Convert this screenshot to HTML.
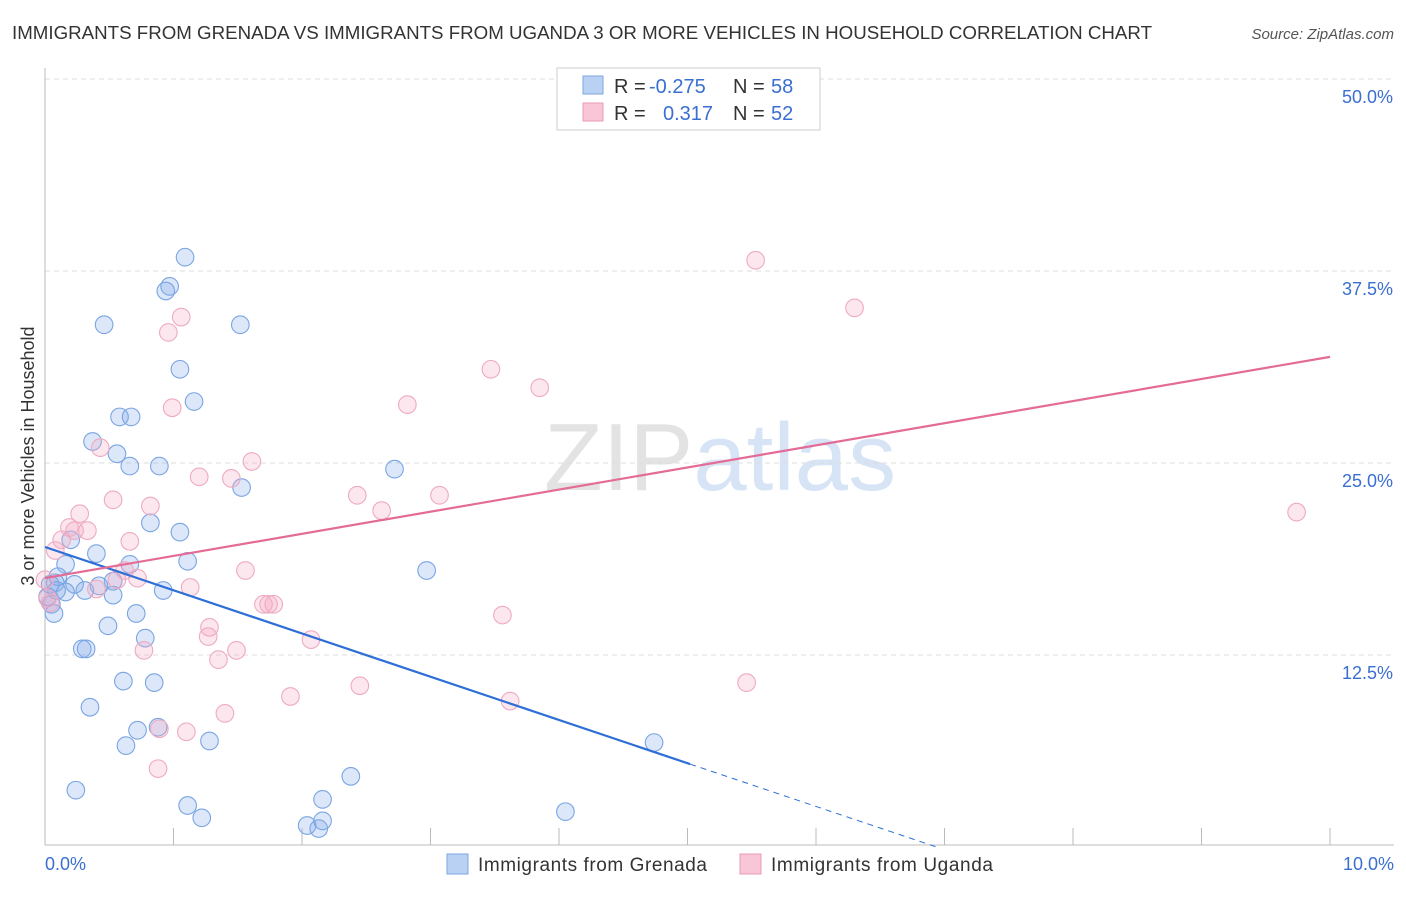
<!DOCTYPE html>
<html><head><meta charset="utf-8"><style>
body{margin:0;background:#fff;font-family:"Liberation Sans",sans-serif}
svg text{font-family:"Liberation Sans",sans-serif}
</style></head><body>
<svg id="chart" width="1406" height="892" viewBox="0 0 1406 892">
<text x="12" y="39" font-size="18" fill="#333" textLength="1140" lengthAdjust="spacingAndGlyphs">IMMIGRANTS FROM GRENADA VS IMMIGRANTS FROM UGANDA 3 OR MORE VEHICLES IN HOUSEHOLD CORRELATION CHART</text>
<text x="1394" y="39" font-size="15" fill="#555" font-style="italic" text-anchor="end">Source: ZipAtlas.com</text>
<text x="720" y="490" font-size="96" text-anchor="middle" font-family="Liberation Serif"><tspan fill="#e3e3e3">ZIP</tspan><tspan fill="#d6e4f6" font-family="Liberation Sans">atlas</tspan></text>
<text transform="translate(34,456) rotate(-90)" font-size="18" fill="#333" text-anchor="middle">3 or more Vehicles in Household</text>
<g id="grid"></g><g id="pts"></g><g id="lines"></g>
<g>
<rect x="557" y="68" width="263" height="62" fill="#fff" stroke="#ccc"/>
<rect x="583" y="76" width="20" height="18" fill="#b9d2f4" stroke="#7ea6e0"/>
<rect x="583" y="103" width="20" height="18" fill="#f8c6d6" stroke="#eb9ab5"/>
<text x="614" y="93" font-size="20" fill="#333">R =</text>
<text x="649" y="93" font-size="20" fill="#3a6fd1">-0.275</text>
<text x="733" y="93" font-size="20" fill="#333">N =</text>
<text x="771" y="93" font-size="20" fill="#3a6fd1">58</text>
<text x="614" y="120" font-size="20" fill="#333">R =</text>
<text x="663" y="120" font-size="20" fill="#3a6fd1">0.317</text>
<text x="733" y="120" font-size="20" fill="#333">N =</text>
<text x="771" y="120" font-size="20" fill="#3a6fd1">52</text>
</g>
<g>
<rect x="447" y="854" width="21" height="20" fill="#b9d2f4" stroke="#7ea6e0"/>
<text x="478" y="871" font-size="19" fill="#333" textLength="229">Immigrants from Grenada</text>
<rect x="740" y="854" width="21" height="20" fill="#f8c6d6" stroke="#eb9ab5"/>
<text x="771" y="871" font-size="19" fill="#333" textLength="222">Immigrants from Uganda</text>
</g>
</svg>
<script>
const yTicks=[12.5,25,37.5,50];
const yTickLabels=["12.5%","25.0%","37.5%","50.0%"];
const xTickLabels=["0.0%","10.0%"];
const blueX=[1.09,0.97,0.94,0.46,1.52,1.05,1.16,0.58,0.67,0.37,0.56,0.66,0.89,1.53,2.72,0.82,1.05,0.20,0.40,0.66,1.11,0.16,0.10,0.08,0.04,0.23,0.53,0.42,0.16,0.09,0.31,0.02,0.92,0.53,0.05,0.71,0.07,0.49,0.78,0.29,0.32,0.61,0.85,2.97,0.35,0.72,0.63,0.88,1.28,0.24,1.11,1.22,2.38,2.16,2.04,2.13,2.16,4.05,4.74];
const blueY=[38.4,36.5,36.2,34.0,34.0,31.1,29.0,28.0,28.0,26.4,25.6,24.8,24.8,23.4,24.6,21.1,20.5,20.0,19.1,18.4,18.6,18.4,17.6,17.2,17.1,17.1,17.3,17.0,16.6,16.7,16.7,16.3,16.7,16.4,15.8,15.2,15.2,14.4,13.6,12.9,12.9,10.8,10.7,18.0,9.1,7.6,6.6,7.8,6.9,3.7,2.7,1.9,4.6,3.1,1.4,1.2,1.7,2.3,6.8];
const pinkX=[5.53,6.30,1.06,0.96,3.47,3.85,2.82,0.99,0.43,1.61,1.20,1.45,0.53,2.43,3.07,0.82,2.62,0.27,0.19,0.33,0.23,0.13,0.66,0.08,1.56,0.62,0.72,0.56,0.40,0.02,0.04,1.13,1.70,1.78,1.74,3.56,1.28,1.27,2.07,0.77,1.49,1.35,1.91,2.45,1.40,3.62,5.46,1.10,0.89,0.88,9.74,0.0];
const pinkY=[38.2,35.1,34.5,33.5,31.1,29.9,28.8,28.6,26.0,25.1,24.1,24.0,22.6,22.9,22.9,22.2,21.9,21.7,20.8,20.6,20.6,20.0,19.9,19.3,18.0,18.0,17.5,17.4,16.8,16.2,15.9,16.9,15.8,15.8,15.8,15.1,14.3,13.7,13.5,12.8,12.8,12.2,9.8,10.5,8.7,9.5,10.7,7.5,7.7,5.1,21.8,17.4];
const blueTrend=[19.53,-2.815];
const pinkTrend=[17.51,1.44];
const NS="http://www.w3.org/2000/svg";
const sx=v=>45+v*128.5, sy=v=>847-v*15.36;
function mk(tag,at,parent){const e=document.createElementNS(NS,tag);for(const k in at)e.setAttribute(k,at[k]);parent.appendChild(e);return e;}
const g=document.getElementById('grid');
yTicks.forEach((t,i)=>{
 const l=mk('line',{x1:45,x2:1394,y1:sy(t),y2:sy(t),stroke:'#ddd','stroke-dasharray':'5,4'},g);
 
 
 const tx=mk('text',{x:1393,y:sy(t)+24,'font-size':18,fill:'#3a6fd1','text-anchor':'end'},g);
 tx.textContent=yTickLabels[i];
 
 
});
const ax=mk('line',{x1:45,x2:45,y1:68,y2:845,stroke:'#bbb'},g);


const bx=mk('line',{x1:45,x2:1394,y1:845,y2:845,stroke:'#bbb'},g);


for(let i=1;i<=10;i++){const t=mk('line',{x1:sx(i),x2:sx(i),y1:828,y2:845,stroke:'#bbb'},g);
 
 }
[[0,'start',45],[10,'end',1394]].forEach((d,i)=>{const t=mk('text',{x:d[2],y:870,'font-size':18,fill:'#3a6fd1','text-anchor':d[1]},g);t.textContent=xTickLabels[i];
 
 });
const p=document.getElementById('pts');
blueX.forEach((x,i)=>{const c=mk('circle',{cx:sx(x),cy:sy(blueY[i]),r:8.8,fill:'rgba(130,170,235,0.28)',stroke:'#7aa5e2','stroke-width':1.1},p);
 
 });
pinkX.forEach((x,i)=>{const c=mk('circle',{cx:sx(x),cy:sy(pinkY[i]),r:8.8,fill:'rgba(245,170,195,0.28)',stroke:'#eeaac2','stroke-width':1.1},p);
 
 });
const L=document.getElementById('lines');
const bt=x=>blueTrend[0]+blueTrend[1]*x, pt=x=>pinkTrend[0]+pinkTrend[1]*x;
let e=mk('line',{x1:sx(0),y1:sy(bt(0)),x2:sx(5.02),y2:sy(bt(5.02)),stroke:'#2d6fd6','stroke-width':2.2},L);


e=mk('line',{x1:sx(5.02),y1:sy(bt(5.02)),x2:sx(6.94),y2:sy(bt(6.94)),stroke:'#2d6fd6','stroke-width':1,'stroke-dasharray':'6,5'},L);


e=mk('line',{x1:sx(0),y1:sy(pt(0)),x2:sx(10),y2:sy(pt(10)),stroke:'#e46b96','stroke-width':2.2},L);


</script>
</body></html>
